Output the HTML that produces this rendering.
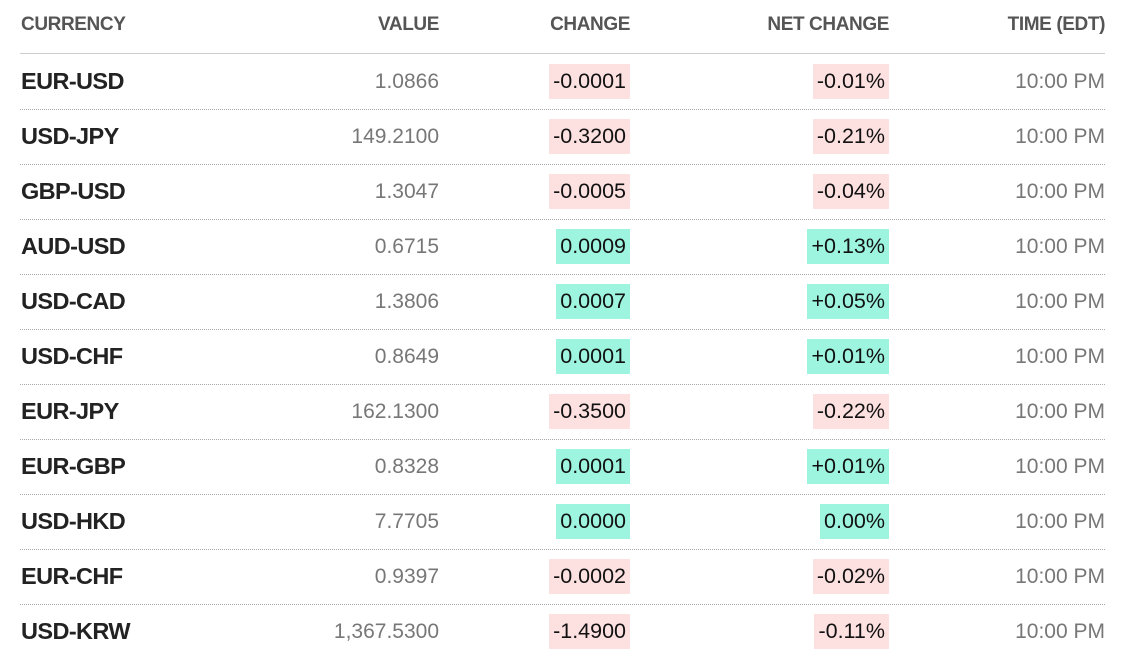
<!DOCTYPE html>
<html><head><style>
body{margin:0;width:1125px;height:655px;background:#fff;font-family:"Liberation Sans",sans-serif;position:relative;overflow:hidden}
.h{position:absolute;top:14px;font-size:19px;font-weight:bold;color:#555;letter-spacing:-0.4px}
.r{position:absolute;left:20px;width:1085px;height:55px;border-bottom:1px dotted #aaa}
.r div{position:absolute;top:0;height:55px;line-height:55px;font-size:21px}
.r div.c{left:1px;font-weight:bold;color:#222;font-size:23.5px;letter-spacing:-0.6px}
.v{right:666px;color:#777}
.t{right:0;color:#777}
.r div.b{top:10px;height:35px;line-height:35px;padding:0 4px;color:#111;font-size:21.5px}
.ch{right:475px}.nc{right:216px}
.n{background:#fde0e0}.p{background:#9ef5df}
</style></head><body>
<div class="h" style="left:21px">CURRENCY</div>
<div class="h" style="right:686px">VALUE</div>
<div class="h" style="right:495px">CHANGE</div>
<div class="h" style="right:236px">NET CHANGE</div>
<div class="h" style="right:20px">TIME (EDT)</div>
<div style="position:absolute;left:20px;top:53px;width:1085px;height:1px;background:#ccc"></div>
<div class="r" style="top:54px"><div class="c">EUR-USD</div><div class="v">1.0866</div><div class="ch b n">-0.0001</div><div class="nc b n">-0.01%</div><div class="t">10:00 PM</div></div>
<div class="r" style="top:109px"><div class="c">USD-JPY</div><div class="v">149.2100</div><div class="ch b n">-0.3200</div><div class="nc b n">-0.21%</div><div class="t">10:00 PM</div></div>
<div class="r" style="top:164px"><div class="c">GBP-USD</div><div class="v">1.3047</div><div class="ch b n">-0.0005</div><div class="nc b n">-0.04%</div><div class="t">10:00 PM</div></div>
<div class="r" style="top:219px"><div class="c">AUD-USD</div><div class="v">0.6715</div><div class="ch b p">0.0009</div><div class="nc b p">+0.13%</div><div class="t">10:00 PM</div></div>
<div class="r" style="top:274px"><div class="c">USD-CAD</div><div class="v">1.3806</div><div class="ch b p">0.0007</div><div class="nc b p">+0.05%</div><div class="t">10:00 PM</div></div>
<div class="r" style="top:329px"><div class="c">USD-CHF</div><div class="v">0.8649</div><div class="ch b p">0.0001</div><div class="nc b p">+0.01%</div><div class="t">10:00 PM</div></div>
<div class="r" style="top:384px"><div class="c">EUR-JPY</div><div class="v">162.1300</div><div class="ch b n">-0.3500</div><div class="nc b n">-0.22%</div><div class="t">10:00 PM</div></div>
<div class="r" style="top:439px"><div class="c">EUR-GBP</div><div class="v">0.8328</div><div class="ch b p">0.0001</div><div class="nc b p">+0.01%</div><div class="t">10:00 PM</div></div>
<div class="r" style="top:494px"><div class="c">USD-HKD</div><div class="v">7.7705</div><div class="ch b p">0.0000</div><div class="nc b p">0.00%</div><div class="t">10:00 PM</div></div>
<div class="r" style="top:549px"><div class="c">EUR-CHF</div><div class="v">0.9397</div><div class="ch b n">-0.0002</div><div class="nc b n">-0.02%</div><div class="t">10:00 PM</div></div>
<div class="r" style="top:604px;border:none"><div class="c">USD-KRW</div><div class="v">1,367.5300</div><div class="ch b n">-1.4900</div><div class="nc b n">-0.11%</div><div class="t">10:00 PM</div></div>
</body></html>
